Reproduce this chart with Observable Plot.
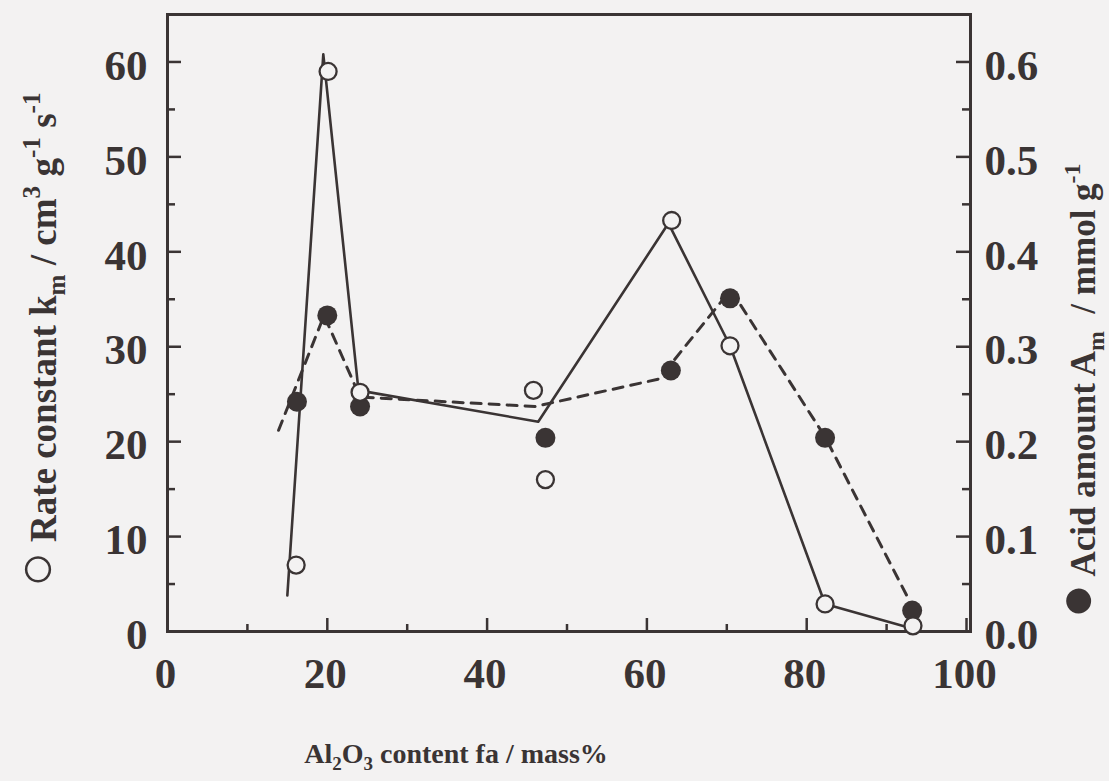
<!DOCTYPE html>
<html>
<head>
<meta charset="utf-8">
<script src="https://cdn.jsdelivr.net/npm/d3@7"></script>
<script src="https://cdn.jsdelivr.net/npm/@observablehq/plot@0.6"></script>
<style>
  html, body { margin: 0; padding: 0; background: #f3f2f2; }
  #chart svg { display: block; }
</style>
</head>
<body>
<div id="chart"></div>
<script>
// ---- data ----
// open circles: rate constant k_m (left axis)
const kmX = [16.1, 20.1, 24.1, 45.8, 47.3, 63.1, 70.4, 82.3, 93.3];
const kmY = [7.0, 59.0, 25.2, 25.4, 16.0, 43.3, 30.1, 2.9, 0.6];
// filled circles: acid amount A_m (right axis)
const acidX = [16.2, 20.0, 24.1, 47.3, 63.0, 70.4, 82.3, 93.2];
const acidY = [0.242, 0.333, 0.237, 0.204, 0.275, 0.351, 0.204, 0.022];
// solid guide line (k_m)
const kmLineX = [15.0, 19.5, 23.9, 46.4, 62.7, 70.4, 82.3, 93.3];
const kmLineY = [3.8, 60.8, 25.4, 22.1, 43.0, 30.1, 2.9, 0.3];
// dashed guide line (A_m)
const acidLineX = [13.9, 19.6, 24.1, 46.0, 61.5, 70.5, 82.3, 92.7];
const acidLineY = [0.212, 0.333, 0.247, 0.237, 0.266, 0.36, 0.205, 0.035];
// ticks
const xTicks = [0, 20, 40, 60, 80, 100];
const xMinor = [10, 30, 50, 70, 90];
const kmTicks = [0, 10, 20, 30, 40, 50, 60];
const kmMinor = [5, 15, 25, 35, 45, 55];
const acidTicks = [0.0, 0.1, 0.2, 0.3, 0.4, 0.5, 0.6];
const acidMinor = [0.05, 0.15, 0.25, 0.35, 0.45, 0.55];

// ---- build tables ----
const km = kmX.map((x, i) => ({x, y: kmY[i]}));
const acid = acidX.map((x, i) => ({x, y: acidY[i]}));
const kmLine = kmLineX.map((x, i) => ({x, y: kmLineY[i]}));
const acidLine = acidLineX.map((x, i) => ({x, y: acidLineY[i]}));

const ink = "#3a3434";
const bg = "#f3f2f2";
const W = 1109, H = 781;
const mL = 167, mR = 139, mT = 14, mB = 150;
const pw = W - mL - mR, ph = H - mT - mB;
const ACID_K = 100; // right axis: 0.1 mmol/g == 10 units on left axis

const svg = Plot.plot({
  width: W, height: H,
  marginLeft: mL, marginRight: mR, marginTop: mT, marginBottom: mB,
  x: {domain: [0, 100.5]},
  y: {domain: [0, 65]},
  style: {
    background: bg, color: ink,
    fontFamily: "'Liberation Serif', 'Times New Roman', serif",
    fontWeight: "bold", fontSize: "43px"
  },
  marks: [
    Plot.axisY({anchor: "left", ticks: kmTicks, tickSize: 0, tickPadding: 20, label: null, dy: 4}),
    Plot.axisY({anchor: "right", ticks: acidTicks.map(v => v * ACID_K), tickFormat: d => (d / ACID_K).toFixed(1), tickSize: 0, tickPadding: 14, label: null, dy: 4}),
    Plot.axisX({ticks: xTicks, tickSize: 0, tickPadding: 26, label: null, dx: -2}),
    // inward ticks
    Plot.ruleY(kmTicks, {y: d => d, insetRight: pw - 14, stroke: ink, strokeWidth: 2.5}),
    Plot.ruleY(kmMinor, {y: d => d, insetRight: pw - 8, stroke: ink, strokeWidth: 2.5}),
    Plot.ruleY(acidTicks, {y: d => d * ACID_K, insetLeft: pw - 14, stroke: ink, strokeWidth: 2.5}),
    Plot.ruleY(acidMinor, {y: d => d * ACID_K, insetLeft: pw - 8, stroke: ink, strokeWidth: 2.5}),
    Plot.ruleX(xTicks, {x: d => d, insetTop: ph - 13, stroke: ink, strokeWidth: 2.5}),
    Plot.ruleX(xMinor, {x: d => d, insetTop: ph - 7, stroke: ink, strokeWidth: 2.5}),
    Plot.frame({stroke: ink, strokeWidth: 3}),
    // guide lines
    Plot.line(kmLine, {x: "x", y: "y", stroke: ink, strokeWidth: 2.6}),
    Plot.line(acidLine, {x: "x", y: d => d.y * ACID_K, stroke: ink, strokeWidth: 3, strokeDasharray: "10,8"}),
    // points
    Plot.dot(acid, {x: "x", y: d => d.y * ACID_K, r: 10, fill: ink, stroke: "none"}),
    Plot.dot(km, {x: "x", y: "y", r: 8.5, fill: bg, stroke: ink, strokeWidth: 2.3})
  ]
});

// ---- axis titles with sub/superscripts ----
const s = d3.select(svg);
function rich(g, parts, size) {
  // parts: [text, mode, sizeOverride]; mode "" | "sub" | "sup"
  let shift = 0;
  parts.forEach(([t, mode, fs]) => {
    const target = mode === "sub" ? size * 0.25 : mode === "sup" ? -size * 0.42 : 0;
    g.append("tspan")
      .attr("dy", target - shift)
      .attr("font-size", fs || (mode ? size * 0.68 : size))
      .attr("font-weight", fs ? "normal" : "bold")
      .text(t);
    shift = target;
  });
}
const titleFont = "'Liberation Serif', 'Times New Roman', serif";

const left = s.append("text")
  .attr("transform", "translate(56,340) rotate(-90)")
  .attr("text-anchor", "middle")
  .attr("font-family", titleFont).attr("font-weight", "bold")
  .attr("fill", ink).attr("font-size", 37);
rich(left, [["\u25CB", "", 60], [" Rate constant k", ""], ["m", "sub"], [" / cm", ""], ["3", "sup"], [" g", ""], ["-1", "sup"], [" s", ""], ["-1", "sup"]], 37);

const right = s.append("text")
  .attr("transform", "translate(1095,391) rotate(-90)")
  .attr("text-anchor", "middle")
  .attr("font-family", titleFont).attr("font-weight", "bold")
  .attr("fill", ink).attr("font-size", 35);
rich(right, [["\u25CF", "", 58], [" Acid amount A", ""], ["m", "sub"], ["  / mmol g", ""], ["-1", "sup"]], 35);

const bottom = s.append("text")
  .attr("x", 456).attr("y", 763)
  .attr("text-anchor", "middle")
  .attr("font-family", titleFont).attr("font-weight", "bold")
  .attr("fill", ink).attr("font-size", 28);
rich(bottom, [["Al", ""], ["2", "sub"], ["O", ""], ["3", "sub"], [" content fa / mass%", ""]], 28);

document.getElementById("chart").appendChild(svg);
</script>
</body>
</html>
